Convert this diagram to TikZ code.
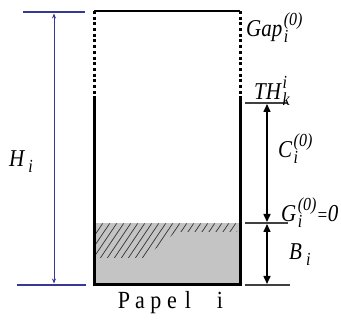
\documentclass[tikz,border=0pt]{standalone}
\usepackage{fontspec}
\setmainfont{Liberation Serif}
\usetikzlibrary{arrows.meta}
\definecolor{dimblue}{RGB}{55,55,150}
\definecolor{fillgray}{RGB}{196,196,196}
\newcommand\lbl{\fontsize{21}{21}\selectfont\itshape}
\newcommand\smalll{\fontsize{16}{16}\selectfont\itshape}
\newcommand\ssx[2]{\kern1.5pt\rlap{\raisebox{-5pt}{\smalll #2}}\raisebox{10pt}{\smalll #1}}
\newcommand\sbx[1]{\kern4pt\raisebox{-5pt}{\smalll #1}}
\newcommand\tall[1]{\scalebox{1}[1.15]{#1}}
\newcommand\cell[1]{\makebox[16pt]{#1}}
\tikzset{
  lab/.style={inner sep=0pt, anchor=base west, font=\lbl},
  wall/.style={line width=3pt, black},
  dotwall/.style={line width=3pt, black, dash pattern=on 3pt off 2.7pt},
  tick/.style={line width=1.3pt, black!75},
  bluetick/.style={line width=2pt, dimblue},
  bluearrow/.style={line width=0.8pt, dimblue, {Stealth[length=5pt,width=4pt]}-{Stealth[length=5pt,width=4pt]}},
  blackarrow/.style={line width=1.5pt, black, {Triangle[length=8pt,width=7pt]}-{Triangle[length=8pt,width=7pt]}},
  hatch/.style={line width=0.7pt, black!80}
}
\begin{document}
\begin{tikzpicture}[x=1pt,y=-1pt]
\useasboundingbox (0,0) rectangle (341,321);
% container corners
\coordinate (tl) at (94,11);
\coordinate (tr) at (240,11);
\coordinate (ml) at (94,98);
\coordinate (mr) at (240,98);
\coordinate (bl) at (94,285);
\coordinate (br) at (240,285);
% gray content
\fill[fillgray] (95.5,223) rectangle (238.5,284);
\begin{scope}
  \clip (96,223.5) -- (237,223.5) -- (237,232) -- (176,232) -- (144,258) -- (96,258) -- cycle;
  \foreach \k in {50,57,...,260} {
    \draw[hatch] (\k,260) -- (\k+27,220);
  }
\end{scope}
% walls
\draw[line width=2pt] (tl) -- (tr);
\draw[dotwall] (tl) -- (ml);
\draw[dotwall] (tr) -- (mr);
\draw[wall] (ml) -- (bl) -- (br) -- (mr);
% left blue dimension
\coordinate (bt1) at (23,12); \coordinate (bt2) at (85,12);
\coordinate (bb1) at (17,285); \coordinate (bb2) at (86,285);
\draw[bluetick] (bt1) -- (bt2);
\draw[bluetick] (bb1) -- (bb2);
\coordinate (ba1) at (54,13.5); \coordinate (ba2) at (54,283.5);
\draw[bluearrow] (ba1) -- (ba2);
\node[lab] (H) at (9,167) {\tall{H\sbx{i}}};
% right ticks
\coordinate (t1) at (245,103); \coordinate (t2) at (288,103);
\coordinate (g1) at (245,223); \coordinate (g2) at (288,223);
\coordinate (r1) at (245,285); \coordinate (r2) at (290,285);
\draw[tick] (t1) -- (t2);
\draw[tick] (g1) -- (g2);
\draw[tick] (r1) -- (r2);
\coordinate (a1) at (267,104); \coordinate (a2) at (267,222);
\coordinate (a3) at (267,224); \coordinate (a4) at (267,284);
\draw[blackarrow] (a1) -- (a2);
\draw[blackarrow] (a3) -- (a4);
% labels
\node[lab] (gap) at (246,37) {\tall{Gap\ssx{(0)}{i}}};
\node[lab] (th) at (254,100) {\tall{TH\ssx{i}{k}}};
\node[lab] (c) at (278,158) {\tall{C\ssx{(0)}{i}}};
\node[lab] (g) at (281,222) {\tall{G\ssx{(0)}{i}{\fontsize{17}{17}\selectfont=}0}};
\node[lab] (b) at (289,260) {\tall{B\sbx{i}}};
\node[inner sep=0pt, anchor=base] (papel) at (172,309) {\scalebox{1}[1.12]{\fontsize{22}{22}\selectfont\cell{P}\cell{a}\cell{p}\cell{e}\cell{l}\cell{}\cell{i}}};
\end{tikzpicture}
\end{document}
